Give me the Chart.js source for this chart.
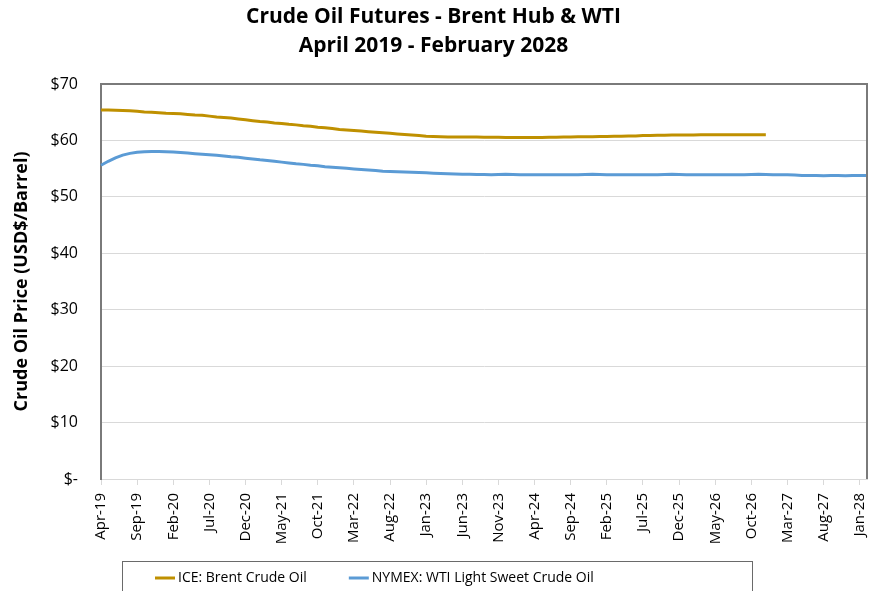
<!DOCTYPE html>
<html>
<head>
<meta charset="utf-8">
<title>Crude Oil Futures</title>
<script src="https://cdn.jsdelivr.net/npm/chart.js@4.4.1/dist/chart.umd.min.js"></script>
<style>
  html, body { margin: 0; padding: 0; background: #fff; }
  canvas { display: block; }
</style>
</head>
<body>
<canvas id="oilChart" width="869" height="591"></canvas>
<script>
// month labels, Apr-19 .. Feb-28
var months = [
  'Apr-19','May-19','Jun-19','Jul-19','Aug-19','Sep-19','Oct-19','Nov-19','Dec-19',
  'Jan-20','Feb-20','Mar-20','Apr-20','May-20','Jun-20','Jul-20','Aug-20','Sep-20','Oct-20','Nov-20','Dec-20',
  'Jan-21','Feb-21','Mar-21','Apr-21','May-21','Jun-21','Jul-21','Aug-21','Sep-21','Oct-21','Nov-21','Dec-21',
  'Jan-22','Feb-22','Mar-22','Apr-22','May-22','Jun-22','Jul-22','Aug-22','Sep-22','Oct-22','Nov-22','Dec-22',
  'Jan-23','Feb-23','Mar-23','Apr-23','May-23','Jun-23','Jul-23','Aug-23','Sep-23','Oct-23','Nov-23','Dec-23',
  'Jan-24','Feb-24','Mar-24','Apr-24','May-24','Jun-24','Jul-24','Aug-24','Sep-24','Oct-24','Nov-24','Dec-24',
  'Jan-25','Feb-25','Mar-25','Apr-25','May-25','Jun-25','Jul-25','Aug-25','Sep-25','Oct-25','Nov-25','Dec-25',
  'Jan-26','Feb-26','Mar-26','Apr-26','May-26','Jun-26','Jul-26','Aug-26','Sep-26','Oct-26','Nov-26','Dec-26',
  'Jan-27','Feb-27','Mar-27','Apr-27','May-27','Jun-27','Jul-27','Aug-27','Sep-27','Oct-27','Nov-27','Dec-27',
  'Jan-28','Feb-28'
];

// ICE Brent, Apr-19 .. Dec-26
var brent = [
  65.4, 65.4, 65.35, 65.3, 65.25, 65.15, 65.05, 65.0, 64.9,
  64.8, 64.75, 64.7, 64.6, 64.5, 64.45, 64.3, 64.15, 64.05, 63.95, 63.8, 63.65,
  63.5, 63.35, 63.25, 63.1, 63.0, 62.85, 62.75, 62.6, 62.5, 62.35, 62.25, 62.1,
  61.95, 61.85, 61.75, 61.65, 61.55, 61.45, 61.35, 61.25, 61.15, 61.05, 60.95, 60.85,
  60.75, 60.7, 60.65, 60.6, 60.6, 60.6, 60.6, 60.6, 60.55, 60.55, 60.55, 60.5,
  60.5, 60.5, 60.5, 60.5, 60.5, 60.55, 60.55, 60.6, 60.6, 60.65, 60.65, 60.65,
  60.7, 60.7, 60.75, 60.75, 60.8, 60.8, 60.85, 60.85, 60.9, 60.9, 60.95, 60.95,
  60.95, 60.95, 61.0, 61.0, 61.0, 61.0, 61.0, 61.0, 61.0, 61.0, 61.0, 61.0
];

// NYMEX WTI, Apr-19 .. Feb-28
var wti = [
  55.6, 56.3, 56.9, 57.4, 57.7, 57.9, 58.0, 58.05, 58.05,
  58.0, 57.95, 57.85, 57.75, 57.65, 57.55, 57.45, 57.35, 57.25, 57.1, 57.0, 56.85,
  56.7, 56.55, 56.45, 56.3, 56.15, 56.0, 55.85, 55.75, 55.6, 55.5, 55.35, 55.25,
  55.15, 55.05, 54.95, 54.85, 54.75, 54.65, 54.55, 54.5, 54.45, 54.4, 54.35, 54.3,
  54.25, 54.2, 54.15, 54.1, 54.05, 54.0, 54.0, 53.95, 53.95, 53.9, 53.95, 54.0,
  53.95, 53.9, 53.9, 53.9, 53.9, 53.9, 53.9, 53.9, 53.9, 53.9, 53.95, 54.0,
  53.95, 53.9, 53.9, 53.9, 53.9, 53.9, 53.9, 53.9, 53.9, 53.95, 54.0, 53.95,
  53.9, 53.9, 53.9, 53.9, 53.9, 53.9, 53.9, 53.9, 53.9, 53.95, 54.0, 53.95,
  53.9, 53.9, 53.9, 53.85, 53.8, 53.8, 53.8, 53.75, 53.8, 53.8, 53.75, 53.8,
  53.8, 53.8
];

var seriesNames = ['ICE: Brent Crude Oil', 'NYMEX: WTI Light Sweet Crude Oil'];
var seriesColors = ['#BF9000', '#5B9BD5'];

var FONT = '"Open Sans", Lato, sans-serif';

// plot frame (top + right) and the boxed legend under the axis
var frameAndLegend = {
  id: 'frameAndLegend',
  afterDraw: function(chart) {
    var ctx = chart.ctx;
    var a = chart.chartArea;
    ctx.save();
    ctx.strokeStyle = '#7a7a7a';
    ctx.lineWidth = 2;
    ctx.beginPath();
    ctx.moveTo(a.left, a.top);
    ctx.lineTo(a.right, a.top);
    ctx.lineTo(a.right, a.bottom);
    ctx.stroke();

    // legend box
    ctx.lineWidth = 1;
    ctx.strokeStyle = '#6a6a6a';
    ctx.strokeRect(122.5, 561.5, 630, 60);

    ctx.font = '14px ' + FONT;
    ctx.textBaseline = 'middle';
    ctx.fillStyle = '#000';
    var x = 155, y = 578;
    chart.data.datasets.forEach(function(ds) {
      ctx.strokeStyle = ds.borderColor;
      ctx.lineWidth = 3;
      ctx.beginPath();
      ctx.moveTo(x, y);
      ctx.lineTo(x + 20, y);
      ctx.stroke();
      ctx.fillText(ds.label, x + 23, y);
      x += 23 + ctx.measureText(ds.label).width + 42;
    });
    ctx.restore();
  }
};

var ctx = document.getElementById('oilChart').getContext('2d');
new Chart(ctx, {
  type: 'line',
  data: {
    labels: months,
    datasets: [
      { label: seriesNames[0], data: brent, borderColor: seriesColors[0], backgroundColor: seriesColors[0] },
      { label: seriesNames[1], data: wti, borderColor: seriesColors[1], backgroundColor: seriesColors[1] }
    ]
  },
  options: {
    responsive: false,
    animation: false,
    devicePixelRatio: 1,
    layout: { padding: { left: 0, right: 2, top: 0, bottom: 36 } },
    elements: {
      line: { borderWidth: 3, tension: 0 },
      point: { radius: 0 }
    },
    plugins: {
      legend: { display: false },
      tooltip: { enabled: false },
      title: {
        display: true,
        text: ['Crude Oil Futures - Brent Hub & WTI', 'April 2019 - February 2028'],
        color: '#000',
        font: { family: FONT, size: 21, weight: 'bold', lineHeight: 1.38 },
        padding: { top: 3, bottom: 23 }
      }
    },
    scales: {
      x: {
        offset: false,
        grid: {
          drawOnChartArea: false,
          tickLength: 6,
          tickColor: function(c) { return c.index % 5 === 0 ? '#d9d9d9' : 'rgba(0,0,0,0)'; }
        },
        border: { color: '#d9d9d9', width: 1 },
        ticks: {
          autoSkip: false,
          minRotation: 90,
          maxRotation: 90,
          padding: 8,
          color: '#000',
          font: { family: FONT, size: 15 },
          callback: function(v, i) { return i % 5 === 0 ? months[i] : ''; }
        },
        afterFit: function(s) {
          s.height = 76;
          s.paddingLeft = 0;
          s.paddingRight = 0;
        }
      },
      y: {
        min: 0,
        max: 70,
        grid: { color: '#d9d9d9', drawTicks: false },
        border: { color: '#7a7a7a', width: 2 },
        ticks: {
          stepSize: 10,
          padding: 23,
          color: '#000',
          font: { family: FONT, size: 16 },
          callback: function(v) { return v === 0 ? '$-' : '$' + v; }
        },
        title: {
          display: true,
          text: 'Crude Oil Price (USD$/Barrel)',
          color: '#000',
          font: { family: FONT, size: 18, weight: 'bold' },
          padding: { top: 11, bottom: 0 }
        },
        afterFit: function(s) { s.width = 101; }
      }
    }
  },
  plugins: [frameAndLegend]
});
</script>
</body>
</html>
